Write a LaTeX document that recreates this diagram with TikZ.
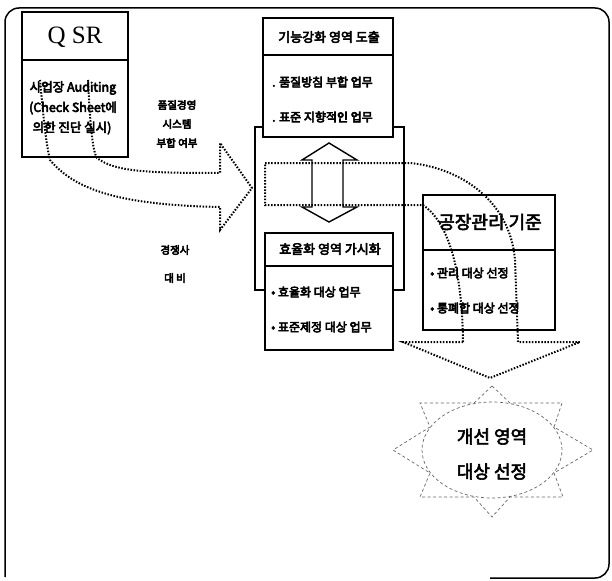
\documentclass[tikz,border=0pt]{standalone}
\usepackage{fontspec}
\setmainfont{Noto Sans CJK KR}
\newfontfamily\qsrfont{Liberation Serif}
\newcommand{\heavytxt}[1]{\special{pdf:literal direct 2 Tr 0.55 w}#1\special{pdf:literal direct 0 Tr}}
\begin{document}
\begin{tikzpicture}[x=1pt,y=-1pt,
  box/.style={draw, line width=1.6pt, fill=white, inner sep=0pt},
  frameline/.style={line width=1.5pt},
  sepline/.style={line width=1.6pt},
  dotline/.style={line width=2pt, dash pattern=on 1.5pt off 1.6pt},
  starline/.style={draw=black!60, line width=0.7pt, dash pattern=on 3pt off 2.5pt},
  hollow/.style={line width=1.4pt, line join=miter},
  item/.style={inner sep=0pt, anchor=west, font=\fontsize{12}{12}\selectfont},
  head/.style={inner sep=0pt, font=\fontsize{12.5}{12.5}\selectfont},
  lbl/.style={inner sep=0pt, font=\fontsize{10.5}{10.5}\selectfont}
]
\useasboundingbox (0,0) rectangle (612,580);
% outer frame
\draw[frameline, rounded corners=14pt] (5,577) -- (5,8) -- (609,8) -- (609,578) -- (490,578);

% container behind the two middle boxes
\node[draw, line width=1.6pt, inner sep=0pt, minimum width=149pt, minimum height=163pt] (cont) at (329.5,208.5) {};

% QSR box
\node[box, minimum width=106pt, minimum height=145pt] (qsr) at (75,84.5) {};
\draw[sepline] (22,60) -- (128,60);

% top middle box
\node[box, minimum width=130pt, minimum height=119pt] (func) at (328,77.5) {};
\draw[sepline] (263,55) -- (393,55);

% bottom middle box
\node[box, minimum width=128pt, minimum height=117pt] (eff) at (329,291.5) {};
\draw[sepline] (265,266) -- (393,266);

% factory box
\node[box, minimum width=132pt, minimum height=135pt] (fac) at (489,262.5) {};
\draw[sepline] (423,250) -- (555,250);

% hollow double arrow
\draw[hollow] (329,143) -- (357,160) -- (343,160) -- (343,207) -- (357,207) -- (329,222)
  -- (302,207) -- (312,207) -- (312,160) -- (302,160) -- cycle;

% dotted fat arrow 1 (QSR -> container)
\draw[dotline] (88,80) .. controls (90,120) and (92,150) .. (97,158)
  .. controls (115,172) and (150,173) .. (220,173) -- (220,143) -- (252,188)
  -- (220,230) -- (220,207) .. controls (120,205) and (75,190) .. (50,160)
  .. controls (45,140) and (42,100) .. (40,80);

% dotted fat arrow 2 (container -> improvement)
\draw[dotline] (463,342) -- (403,342) -- (490,378) -- (580,342) -- (518,342)
  -- (515,260) .. controls (510,200) and (460,168) .. (410,163) -- (265,163)
  -- (265,205) -- (423,205) .. controls (445,220) and (462,260) .. (463,342);

% starburst
\node[inner sep=0pt, minimum width=140pt, minimum height=96pt] (star) at (492,450) {};
\draw[starline] (492,386) -- (510,403) -- (562,403) -- (554,427) -- (593,450) -- (554,473)
  -- (563,497) -- (510,497) -- (492,517) -- (474,497) -- (420,497) -- (430,473)
  -- (393,450) -- (430,427) -- (420,403) -- (474,403) -- cycle;
\draw[starline] (star.center) ellipse [x radius=70pt, y radius=48pt];

% texts
\node[inner sep=0pt, font=\qsrfont\fontsize{25}{25}\selectfont] (qsrT) at (75,37) {Q SR};
\node[head] (q1) at (73,88) {\heavytxt{사업장 Auditing}};
\node[head] (q2) at (73,108) {\heavytxt{(Check Sheet에}};
\node[head] (q3) at (72,128) {\heavytxt{의한 진단 실시)}};

\node[lbl] (l1) at (177,105) {\heavytxt{품질경영}};
\node[lbl] (l2) at (177,124) {\heavytxt{시스템}};
\node[lbl] (l3) at (177,143) {\heavytxt{부합 여부}};
\node[lbl] (l4) at (175,250) {\heavytxt{경쟁사}};
\node[lbl] (l5) at (175,278) {\heavytxt{대 비}};

\node[head, font=\fontsize{13}{13}\selectfont] (funcT) at (329,37) {\heavytxt{기능강화 영역 도출}};
\node[item] (f1) at (272,82) {\heavytxt{. 품질방침 부합 업무}};
\node[item] (f2) at (272,117) {\heavytxt{. 표준 지향적인 업무}};

\node[head, font=\fontsize{13}{13}\selectfont] (effT) at (330,249) {\heavytxt{효율화 영역 가시화}};
\node[item] (e1) at (271,292) {\heavytxt{• 효율화 대상 업무}};
\node[item] (e2) at (271,327) {\heavytxt{• 표준제정 대상 업무}};

\node[inner sep=0pt, font=\fontsize{18}{18}\selectfont] (facT) at (490,222) {\heavytxt{공장관리 기준}};
\node[item] (fa1) at (430,273) {\heavytxt{• 관리 대상 선정}};
\node[item] (fa2) at (430,308) {\heavytxt{• 통폐합 대상 선정}};

\node[inner sep=0pt, align=center, font=\fontsize{18}{35}\selectfont] (starT) at (492,454) {\heavytxt{개선 영역}\\\heavytxt{대상 선정}};
\end{tikzpicture}
\end{document}
